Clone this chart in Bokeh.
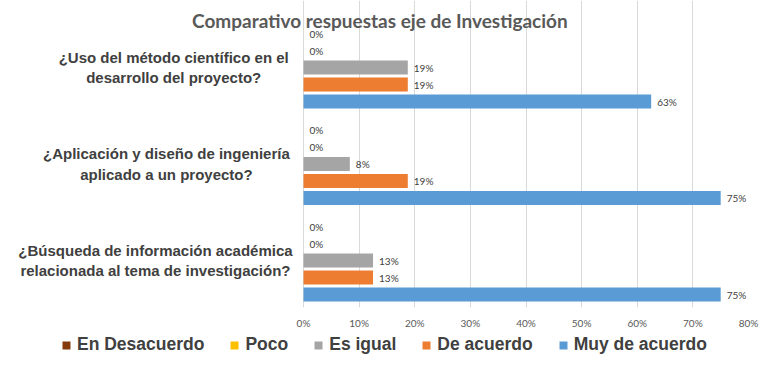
from bokeh.plotting import figure
from bokeh.models import (Range1d, FixedTicker, PrintfTickFormatter, Legend,
                          LegendItem, ColumnDataSource)
from bokeh.layouts import column
from bokeh.core.properties import value
from bokeh.embed import file_html
from bokeh.resources import INLINE
import numpy as np

title = "Comparativo  respuestas  eje de Investigación"
categories = [
    "¿Uso del método científico en el\ndesarrollo del proyecto?",
    "¿Aplicación y diseño de ingeniería\naplicado a un proyecto?",
    "¿Búsqueda de información académica\nrelacionada al tema de investigación?",
]
series = ["En Desacuerdo", "Poco", "Es igual", "De acuerdo", "Muy de acuerdo"]
en_desacuerdo = [0, 0, 0]
poco = [0, 0, 0]
es_igual = [18.75, 8.33, 12.5]
de_acuerdo = [18.75, 18.75, 12.5]
muy_de_acuerdo = [62.5, 75, 75]
x_ticks = [0, 10, 20, 30, 40, 50, 60, 70, 80]

values = [en_desacuerdo, poco, es_igual, de_acuerdo, muy_de_acuerdo]
colors = ["#843C0C", "#FFC000", "#A5A5A5", "#ED7D31", "#5B9BD5"]

# ---- geometry (pixels) ----
W = 765
frame_left_px = 303
frame_right_px = 748
frame_bottom_px = 307
group_gap_px = 96.5
bar_step_px = 17
bar_h_px = 14
top_group_px = 67

n_groups = len(categories)
group_pos = np.arange(n_groups)[::-1].astype(float)  # top group highest
step = bar_step_px / group_gap_px
bar_h = bar_h_px / group_gap_px
px = 80 / (frame_right_px - frame_left_px)
y_top = (n_groups - 1) + top_group_px / group_gap_px
y_bot = -(frame_bottom_px - (top_group_px + (n_groups - 1) * group_gap_px)) / group_gap_px

p = figure(width=W, height=334, output_backend="svg", toolbar_location=None,
           x_range=Range1d(-frame_left_px * px, 80), y_range=Range1d(y_bot, y_top),
           min_border_left=0, min_border_right=W - frame_right_px, min_border_top=0,
           min_border_bottom=334 - frame_bottom_px)
p.outline_line_color = None
p.background_fill_color = "white"
p.border_fill_color = "white"
p.yaxis.visible = False
p.ygrid.grid_line_color = None
p.xgrid.grid_line_color = "#D9D9D9"
p.xgrid.ticker = FixedTicker(ticks=x_ticks)
p.xaxis.ticker = FixedTicker(ticks=x_ticks)
p.xaxis.formatter = PrintfTickFormatter(format="%d%%")
p.xaxis.axis_line_color = None
p.xaxis.major_tick_line_color = None
p.xaxis.minor_tick_line_color = None
p.xaxis.major_tick_out = 0
p.xaxis.major_label_standoff = 9
p.xaxis.major_label_text_font = "Lato"
p.xaxis.major_label_text_font_size = "10px"
p.xaxis.major_label_text_color = "#595959"

for j, (name, vals, col) in enumerate(zip(series, values, colors)):
    ys = group_pos + (2 - j) * step
    src = ColumnDataSource(dict(y=ys, right=vals,
                                lab=[f"{int(v + 0.5)}%" for v in vals]))
    p.hbar(y="y", left=0, right="right", height=bar_h, source=src,
           fill_color=col, line_color=None)
    p.text(x="right", y="y", text="lab", source=src, x_offset=6,
           text_baseline="middle", text_align="left",
           text_font=value("Lato"), text_font_size="10px", text_color="#404040")

# category labels: block right-aligned near the axis, lines centred in the block
maxlen = [max(len(s) for s in c.split("\n")) for c in categories]
cat_offsets = [-(frame_left_px - 290) - 0.5 * 7.3 * m for m in maxlen]
cat_src = ColumnDataSource(dict(x=[0] * n_groups, y=group_pos, t=categories,
                                xo=cat_offsets))
p.text(x="x", y="y", text="t", source=cat_src, x_offset="xo",
       text_align="center", text_baseline="middle",
       text_font=value("Liberation Sans"), text_font_style="bold",
       text_font_size="15px", text_color="#404040", text_line_height=1.2)

title_src = ColumnDataSource(dict(x=[0], y=[y_top - 20 / group_gap_px], t=[title]))
p.text(x="x", y="y", text="t", source=title_src, x_offset=384 - frame_left_px,
       text_align="center", text_baseline="middle", text_font=value("Lato"),
       text_font_style="bold", text_font_size="19px", text_color="#595959")

# legend strip
lg = figure(width=W, height=31, output_backend="svg", toolbar_location=None,
            x_range=Range1d(0, 1), y_range=Range1d(100, 101),
            min_border_left=0, min_border_right=0, min_border_top=0,
            min_border_bottom=0)
lg.axis.visible = False
lg.grid.visible = False
lg.outline_line_color = None
items = []
for j, (name, vals, col) in enumerate(zip(series, values, colors)):
    src = ColumnDataSource(dict(y=group_pos + (2 - j) * step, right=vals))
    r = lg.hbar(y="y", right="right", left=0, height=bar_h, source=src,
                fill_color=col, line_color=None)
    items.append(LegendItem(label=name, renderers=[r]))
legend = Legend(items=items, orientation="horizontal", location=(61, 10),
                glyph_width=10, glyph_height=10, label_standoff=6, spacing=25,
                padding=0, margin=0, border_line_color=None,
                background_fill_alpha=0,
                label_text_font="Liberation Sans", label_text_font_style="bold",
                label_text_font_size="17.5px", label_text_color="#404040",
                label_height=18)
lg.add_layout(legend, "center")

open("out.html", "w").write(file_html(column(p, lg), INLINE))
